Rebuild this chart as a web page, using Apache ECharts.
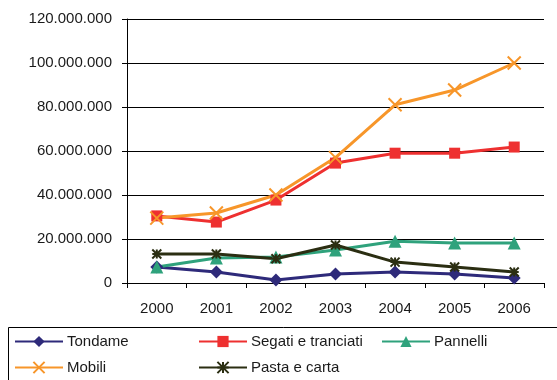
<!DOCTYPE html>
<html><head><meta charset="utf-8">
<script src="https://cdn.jsdelivr.net/npm/echarts@6/dist/echarts.min.js"></script>
<style>html,body{margin:0;padding:0;background:#fff}#c{width:557px;height:380px}</style>
</head><body><div id="c"></div>
<script>
const years = ['2000','2001','2002','2003','2004','2005','2006'];
const tondame = [7300000, 5000000, 1400000, 4100000, 5000000, 4100000, 2300000];
const segati = [30500000, 27700000, 37700000, 54500000, 59000000, 59000000, 61800000];
const pannelli = [7300000, 11400000, 11800000, 15000000, 19000000, 18200000, 18200000];
const mobili = [29500000, 31800000, 40000000, 57000000, 81000000, 87700000, 100000000];
const pasta = [13200000, 13200000, 11000000, 17300000, 9500000, 7300000, 5000000];

const FONT = 'Liberation Sans, Arial, sans-serif';
const xPath = 'path://M0,0L10,10M10,0L0,10';
const starPath = 'path://M0,0L10,10M10,0L0,10M5,0L5,10M0,5L10,5';

function fmt(v){ return String(v).replace(/\B(?=(\d{3})+(?!\d))/g,'.'); }

function mk(name, data, color, symbol, size, extra){
  return Object.assign({
    name, type:'line', data, symbol, symbolSize:size,
    lineStyle:{color, width:3},
    itemStyle:{color, borderColor:color, borderWidth:0},
    z:2
  }, extra||{});
}

const series = [
  mk('Tondame', tondame, '#2e2a7a', 'diamond', 13),
  mk('Segati e tranciati', segati, '#ee3030', 'rect', 11),
  mk('Pannelli', pannelli, '#2fa27c', 'triangle', 13),
  mk('Mobili', mobili, '#f7962a', xPath, 13, {itemStyle:{color:'#f7962a', borderColor:'#f7962a', borderWidth:2}}),
  mk('Pasta e carta', pasta, '#2b2e12', starPath, 9, {itemStyle:{color:'#2b2e12', borderColor:'#2b2e12', borderWidth:2}})
];

function lg(name, left, top){
  return {data:[name], left, top, padding:0, itemWidth:48, itemHeight:14, itemGap:0,
    textStyle:{fontFamily:FONT, fontSize:15, color:'#1a1a1a', padding:[0,0,0,-1]}, selectedMode:false};
}

const chart = echarts.init(document.getElementById('c'));
chart.setOption({
  animation:false,
  backgroundColor:'#fff',
  grid:{left:127, right:13, top:19, bottom:97},
  xAxis:{type:'category', data:years, boundaryGap:true,
    axisLine:{lineStyle:{color:'#000', width:1}},
    axisTick:{show:true, length:5, inside:false, lineStyle:{color:'#000'}},
    axisLabel:{fontFamily:FONT, fontSize:15, color:'#1a1a1a', margin:18}},
  yAxis:{type:'value', min:0, max:120000000, interval:20000000,
    axisLine:{show:true, lineStyle:{color:'#000'}},
    axisTick:{show:true, length:5, lineStyle:{color:'#000'}},
    splitLine:{lineStyle:{color:'#000', width:1}},
    axisLabel:{fontFamily:FONT, fontSize:15, color:'#1a1a1a', margin:15, formatter:fmt}},
  legend:[
    lg('Tondame', 14, 334),
    lg('Segati e tranciati', 198, 334),
    lg('Pannelli', 381, 334),
    lg('Mobili', 14, 360),
    lg('Pasta e carta', 198, 360)
  ],
  graphic:[{type:'rect', shape:{x:8.5, y:327.5, width:560, height:60}, style:{fill:'none', stroke:'#000', lineWidth:1}}],
  series
});
</script></body></html>
